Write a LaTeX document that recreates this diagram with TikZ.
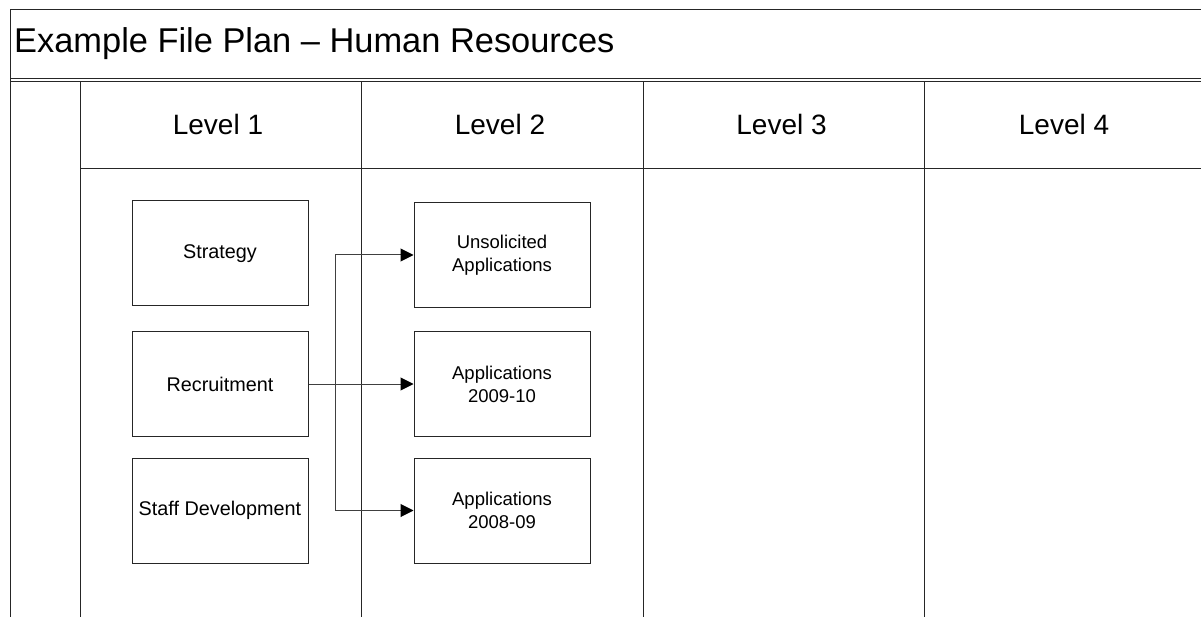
\documentclass[tikz,border=0pt]{standalone}
\usepackage{fontspec}
\setmainfont{Liberation Sans}
\usetikzlibrary{arrows.meta}
\begin{document}
\begin{tikzpicture}[x=1pt,y=-1pt,
  frame/.style={line width=1pt,draw=black!85},
  fbox/.style={draw=black!85,line width=1pt,minimum width=176pt,minimum height=105pt,align=center,inner sep=0pt,font=\fontsize{18.5}{23}\selectfont},
  lbox/.style={fbox,font=\fontsize{19.8}{24}\selectfont},
  lvl/.style={font=\fontsize{28}{33}\selectfont},
  conn/.style={draw=black!75,line width=1pt},
  arr/.style={conn,-{Triangle[length=13pt,width=13pt,fill=black,color=black]}}]
\useasboundingbox (0,0) rectangle (1201,617);
% frame
\draw[frame] (10,617) -- (10,10) -- (1201,10);
\draw[frame] (10,79) -- (1201,79);
\draw[frame] (10,81.5) -- (1201,81.5);
\draw[frame] (80,169) -- (1201,169);
\foreach \x in {80,361,643,924} \draw[frame] (\x,81.5) -- (\x,617);
% title
\node[anchor=west,inner sep=0pt,font=\fontsize{34.4}{40}\selectfont] (title) at (14,44) {Example File Plan – Human Resources};
% levels
\node[lvl] (l1) at (218,124) {Level 1};
\node[lvl] (l2) at (500,124) {Level 2};
\node[lvl] (l3) at (781.5,124) {Level 3};
\node[lvl] (l4) at (1064,124) {Level 4};
% level 1 boxes
\node[lbox] (strat) at (220,253.5) {Strategy};
\node[lbox] (recr) at (220,384) {Recruitment};
\node[lbox] (staff) at (220,510.5) {Staff Development};
% level 2 boxes
\node[fbox] (unsol) at (502,255) {Unsolicited\\Applications};
\node[fbox] (app10) at (502,384) {Applications\\2009-10};
\node[fbox] (app09) at (502,510.5) {Applications\\2008-09};
% connectors
\coordinate (jn) at (335,384);
\draw[conn] (recr.east) -- (jn);
\draw[arr] (jn) |- (unsol.west);
\draw[arr] (jn) -- (app10.west);
\draw[arr] (jn) |- (app09.west);
\end{tikzpicture}
\end{document}
